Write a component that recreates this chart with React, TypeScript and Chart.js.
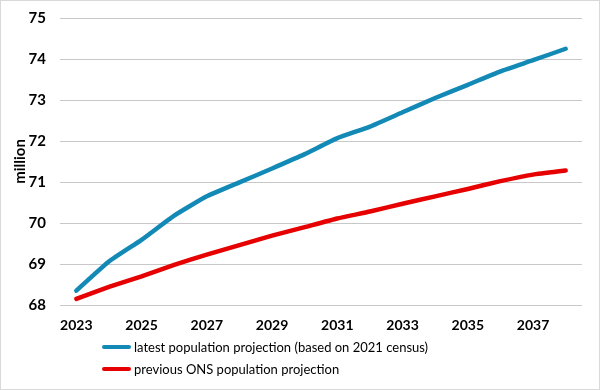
import React, { useEffect, useRef } from "react";
import { Chart, registerables } from "chart.js";

Chart.register(...registerables);

const years = ["2023","2024","2025","2026","2027","2028","2029","2030","2031","2032","2033","2034","2035","2036","2037","2038"];
const latestProjection = [68.35, 69.06, 69.59, 70.18, 70.65, 70.99, 71.33, 71.68, 72.07, 72.35, 72.70, 73.05, 73.37, 73.70, 73.97, 74.25];
const previousProjection = [68.15, 68.44, 68.70, 68.98, 69.23, 69.46, 69.69, 69.90, 70.11, 70.28, 70.47, 70.65, 70.83, 71.02, 71.18, 71.28];
const latestLabel = "latest population projection (based on 2021 census)";
const previousLabel = "previous ONS population projection";
const yTitle = "million";

const BLUE = "#1389b6";
const RED = "#e60000";
const FONT = "Lato, 'Open Sans', sans-serif";

export default function App() {
  const ref = useRef<HTMLCanvasElement | null>(null);

  useEffect(() => {
    document.body.style.margin = "0";
    const ctx = ref.current!.getContext("2d")!;
    const chart = new Chart(ctx, {
      type: "line",
      data: {
        labels: years,
        datasets: [
          { label: latestLabel, data: latestProjection, borderColor: BLUE, backgroundColor: BLUE, borderWidth: 4.5, pointRadius: 0, tension: 0.15, borderCapStyle: "round" },
          { label: previousLabel, data: previousProjection, borderColor: RED, backgroundColor: RED, borderWidth: 4.5, pointRadius: 0, tension: 0.15, borderCapStyle: "round" },
        ],
      },
      options: {
        animation: false,
        responsive: false,
        layout: { padding: { top: 18, right: 18, bottom: 60, left: 0 } },
        plugins: { legend: { display: false }, tooltip: { enabled: false } },
        scales: {
          x: {
            type: "category",
            offset: true,
            grid: { display: false, drawTicks: false },
            border: { display: false },
            ticks: {
              autoSkip: false,
              maxRotation: 0,
              padding: 12,
              color: "#000",
              font: { family: FONT, size: 14, weight: "bold" },
              callback: (_v: any, i: number) => (i % 2 === 0 ? years[i] : ""),
            },
            afterFit: (s: any) => { s.height = 25; s.paddingLeft = 0; s.paddingRight = 0; },
          },
          y: {
            min: 68,
            max: 75,
            ticks: { stepSize: 1, padding: 14, color: "#000", font: { family: FONT, size: 15, weight: "bold" } },
            grid: { color: "#c8c8c8", drawTicks: false, lineWidth: 1 },
            border: { display: false },
            title: { display: true, text: yTitle, color: "#000", padding: { top: 11, bottom: 0 }, font: { family: FONT, size: 15, weight: "bold" } },
            afterFit: (s: any) => { s.width = 60; s.paddingTop = 0; s.paddingBottom = 0; },
          },
        },
      },
    });
    return () => chart.destroy();
  }, []);

  const item = (color: string, text: string) => (
    <div style={{ display: "flex", alignItems: "center", height: 22 }}>
      <div style={{ width: 29, height: 4.5, background: color, borderRadius: 3, marginRight: 3 }} />
      <span style={{ fontFamily: FONT, fontSize: 13, color: "#000" }}>{text}</span>
    </div>
  );

  return (
    <div style={{ position: "relative", width: 600, height: 390, overflow: "hidden", background: "#fff" }}>
      <canvas ref={ref} width={600} height={390} style={{ position: "absolute", left: 0, top: 0, width: 600, height: 390 }} />
      <div style={{ position: "absolute", left: 102, top: 336 }}>
        {item(BLUE, latestLabel)}
        {item(RED, previousLabel)}
      </div>
      <div style={{ position: "absolute", left: 0, top: 0, width: 600, height: 390, boxSizing: "border-box", border: "1px solid #d9d9d9", pointerEvents: "none" }} />
    </div>
  );
}
